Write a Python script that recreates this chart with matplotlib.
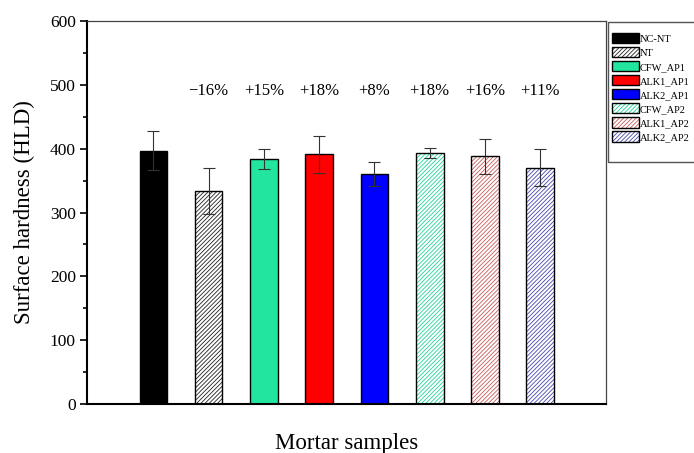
import numpy as np
import matplotlib
matplotlib.use("Agg")
import matplotlib.pyplot as plt
from matplotlib.patches import Patch, Rectangle

samples = ["NC-NT", "NT", "CFW_AP1", "ALK1_AP1", "ALK2_AP1", "CFW_AP2", "ALK1_AP2", "ALK2_AP2"]
hardness = [397, 333, 384, 391, 360, 393, 388, 370]
errors = [30, 36, 16, 29, 19, 8, 27, 29]
changes = ["", "\u221216%", "+15%", "+18%", "+8%", "+18%", "+16%", "+11%"]

colors = ["#000000", "#ffffff", "#22e6a0", "#ff0000", "#0000ff", "#ffffff", "#ffffff", "#ffffff"]
hatch_colors = [None, "#202020", None, None, None, "#22d39a", "#c85a5a", "#4848b0"]
HATCH = "////////"

plt.rcParams["font.family"] = ["Liberation Serif", "DejaVu Serif"]
plt.rcParams["hatch.linewidth"] = 0.6

fig = plt.figure(figsize=(6.94, 4.53), dpi=100)
ax = fig.add_axes([0.1254, 0.1082, 0.8732 - 0.1254, 0.9536 - 0.1082])

x = np.arange(1, len(samples) + 1)
handles = []
for i in range(len(samples)):
    if hatch_colors[i] is None:
        ax.bar(x[i], hardness[i], width=0.5, color=colors[i], edgecolor="black", linewidth=1.0, zorder=2)
        handles.append(Patch(facecolor=colors[i], edgecolor="black", linewidth=1.0))
    else:
        # hatch takes the edge colour, so draw the outline separately
        ax.bar(x[i], hardness[i], width=0.5, color="white", edgecolor=hatch_colors[i],
               hatch=HATCH, linewidth=0, zorder=2)
        ax.bar(x[i], hardness[i], width=0.5, fill=False, edgecolor="black", linewidth=1.0, zorder=3)
        handles.append((Patch(facecolor="white", edgecolor=hatch_colors[i], hatch=HATCH, linewidth=0),
                        Patch(fill=False, edgecolor="black", linewidth=1.0)))

ax.errorbar(x, hardness, yerr=errors, fmt="none", ecolor="#333333", elinewidth=0.8,
            capsize=4, capthick=0.8, zorder=4)

for i in range(len(samples)):
    if changes[i]:
        ax.text(x[i], 490, changes[i], ha="center", va="center", fontsize=12)

ax.set_xlim(-0.2, 9.19)
ax.set_ylim(0, 600)
ax.set_yticks(np.arange(0, 601, 100))
ax.set_yticks(np.arange(50, 600, 100), minor=True)
ax.set_xticks([])
ax.tick_params(axis="y", which="major", direction="out", length=5, width=1.2, labelsize=12.5, pad=3)
ax.tick_params(axis="y", which="minor", direction="out", length=3, width=1.2)
ax.spines["left"].set_linewidth(1.5)
ax.spines["bottom"].set_linewidth(1.5)
ax.spines["top"].set_linewidth(0.9)
ax.spines["right"].set_linewidth(0.9)
ax.spines["top"].set_color("#444444")
ax.spines["right"].set_color("#444444")

ax.set_ylabel("Surface hardness (HLD)", fontsize=16.5, labelpad=11)
ax.set_xlabel("Mortar samples", fontsize=16.5, labelpad=21)

leg = fig.legend(handles, samples, loc="upper left", bbox_to_anchor=(612 / 694, 1 - 33 / 453),
                 fontsize=7.5, frameon=False, handlelength=2.6, handleheight=1.15,
                 handletextpad=0.1, labelspacing=0.32, borderpad=0, borderaxespad=0)
fig.add_artist(Rectangle((608 / 694, (453 - 162) / 453), 100 / 694, 140 / 453,
                         transform=fig.transFigure, fill=False, edgecolor="#555555",
                         linewidth=1.0, clip_on=False))

fig.savefig("out.png", dpi=100)
